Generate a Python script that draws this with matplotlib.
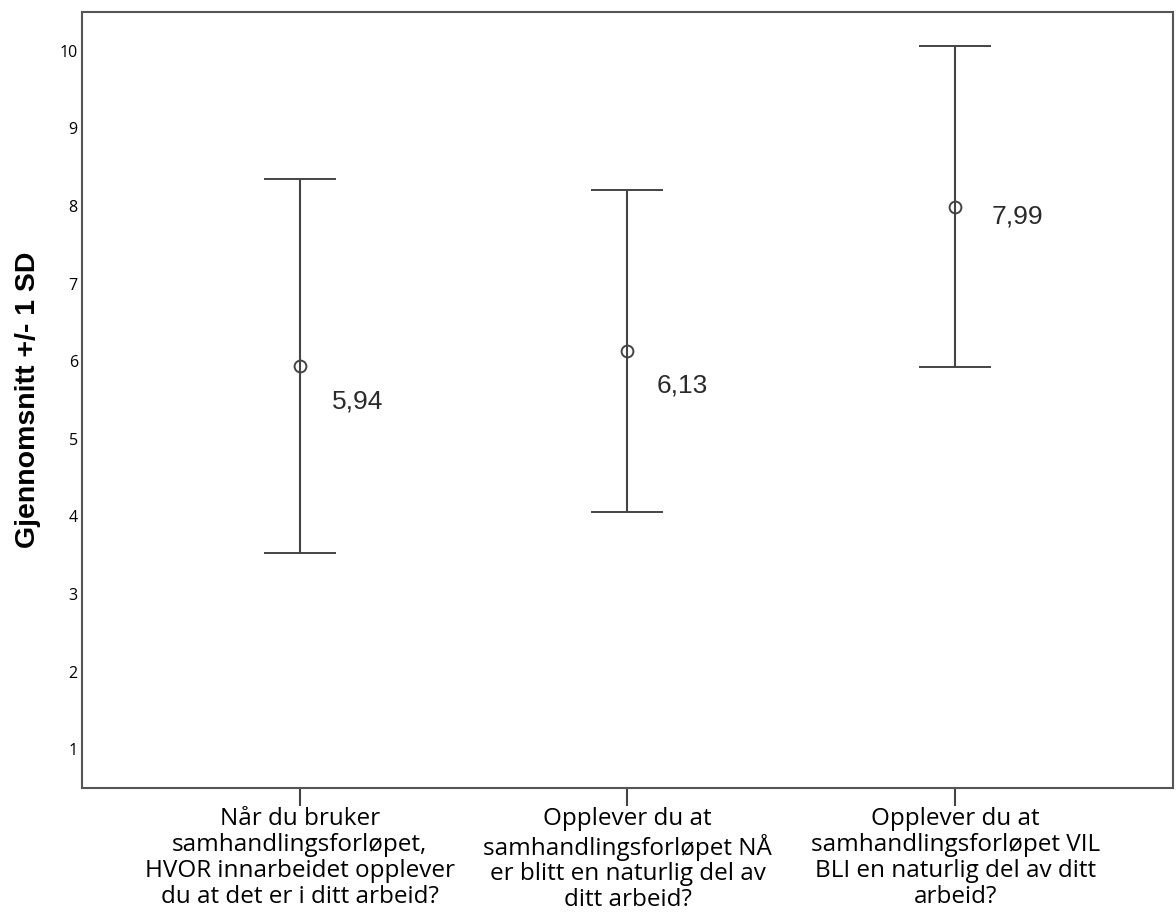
import numpy as np
import matplotlib
matplotlib.use('Agg')
import matplotlib.pyplot as plt

# items on the x axis
items = ['Når du bruker\nsamhandlingsforløpet,\nHVOR innarbeidet opplever\ndu at det er i ditt arbeid?',
         'Opplever du at\nsamhandlingsforløpet NÅ\ner blitt en naturlig del av\nditt arbeid?',
         'Opplever du at\nsamhandlingsforløpet VIL\nBLI en naturlig del av ditt\narbeid?']
means = [5.94, 6.13, 7.99]
sds = [2.41, 2.07, 2.07]
mean_labels = ['5,94', '6,13', '7,99']
yticks = [1, 2, 3, 4, 5, 6, 7, 8, 9, 10]

# label offsets in pixels (dx, dy) from the mean marker
label_offsets = [(32, -36), (29, -34), (37, -10)]

line_col = '#444444'

fig = plt.figure(figsize=(11.76, 9.21), dpi=100)
ax = fig.add_axes([0.0697, 0.1444, 0.9277, 0.8426])

x = np.arange(1, len(items) + 1)
ax.errorbar(x, means, yerr=sds, fmt='o', color=line_col, ecolor=line_col,
            elinewidth=1.5, capsize=26, capthick=1.5,
            markersize=8.5, markerfacecolor='none', markeredgecolor=line_col,
            markeredgewidth=1.4)

for xi, m, lab, off in zip(x, means, mean_labels, label_offsets):
    ax.annotate(lab, (xi, m), xytext=(off[0] * 0.72, off[1] * 0.72),
                textcoords='offset points', ha='left', va='center',
                fontsize=19, family='Liberation Sans', color='#2a2a2a')

ax.set_xlim(0.335, 3.665)
ax.set_ylim(0.5, 10.5)
ax.set_yticks(yticks)
ax.set_yticklabels([str(t) for t in yticks], family='Open Sans', fontsize=11.5)
ax.tick_params(axis='y', length=0, pad=3)
ax.set_xticks(x)
ax.set_xticklabels(items, family='Open Sans', fontsize=17.5, linespacing=1.1)
ax.tick_params(axis='x', length=13, width=1.5, color=line_col, pad=1)

for s in ax.spines.values():
    s.set_linewidth(1.5)
    s.set_color('#555555')

ax.set_ylabel('Gjennomsnitt +/- 1 SD', family='Liberation Sans',
              fontweight='bold', fontsize=20.5, labelpad=13)

fig.savefig('out.png', dpi=100)
